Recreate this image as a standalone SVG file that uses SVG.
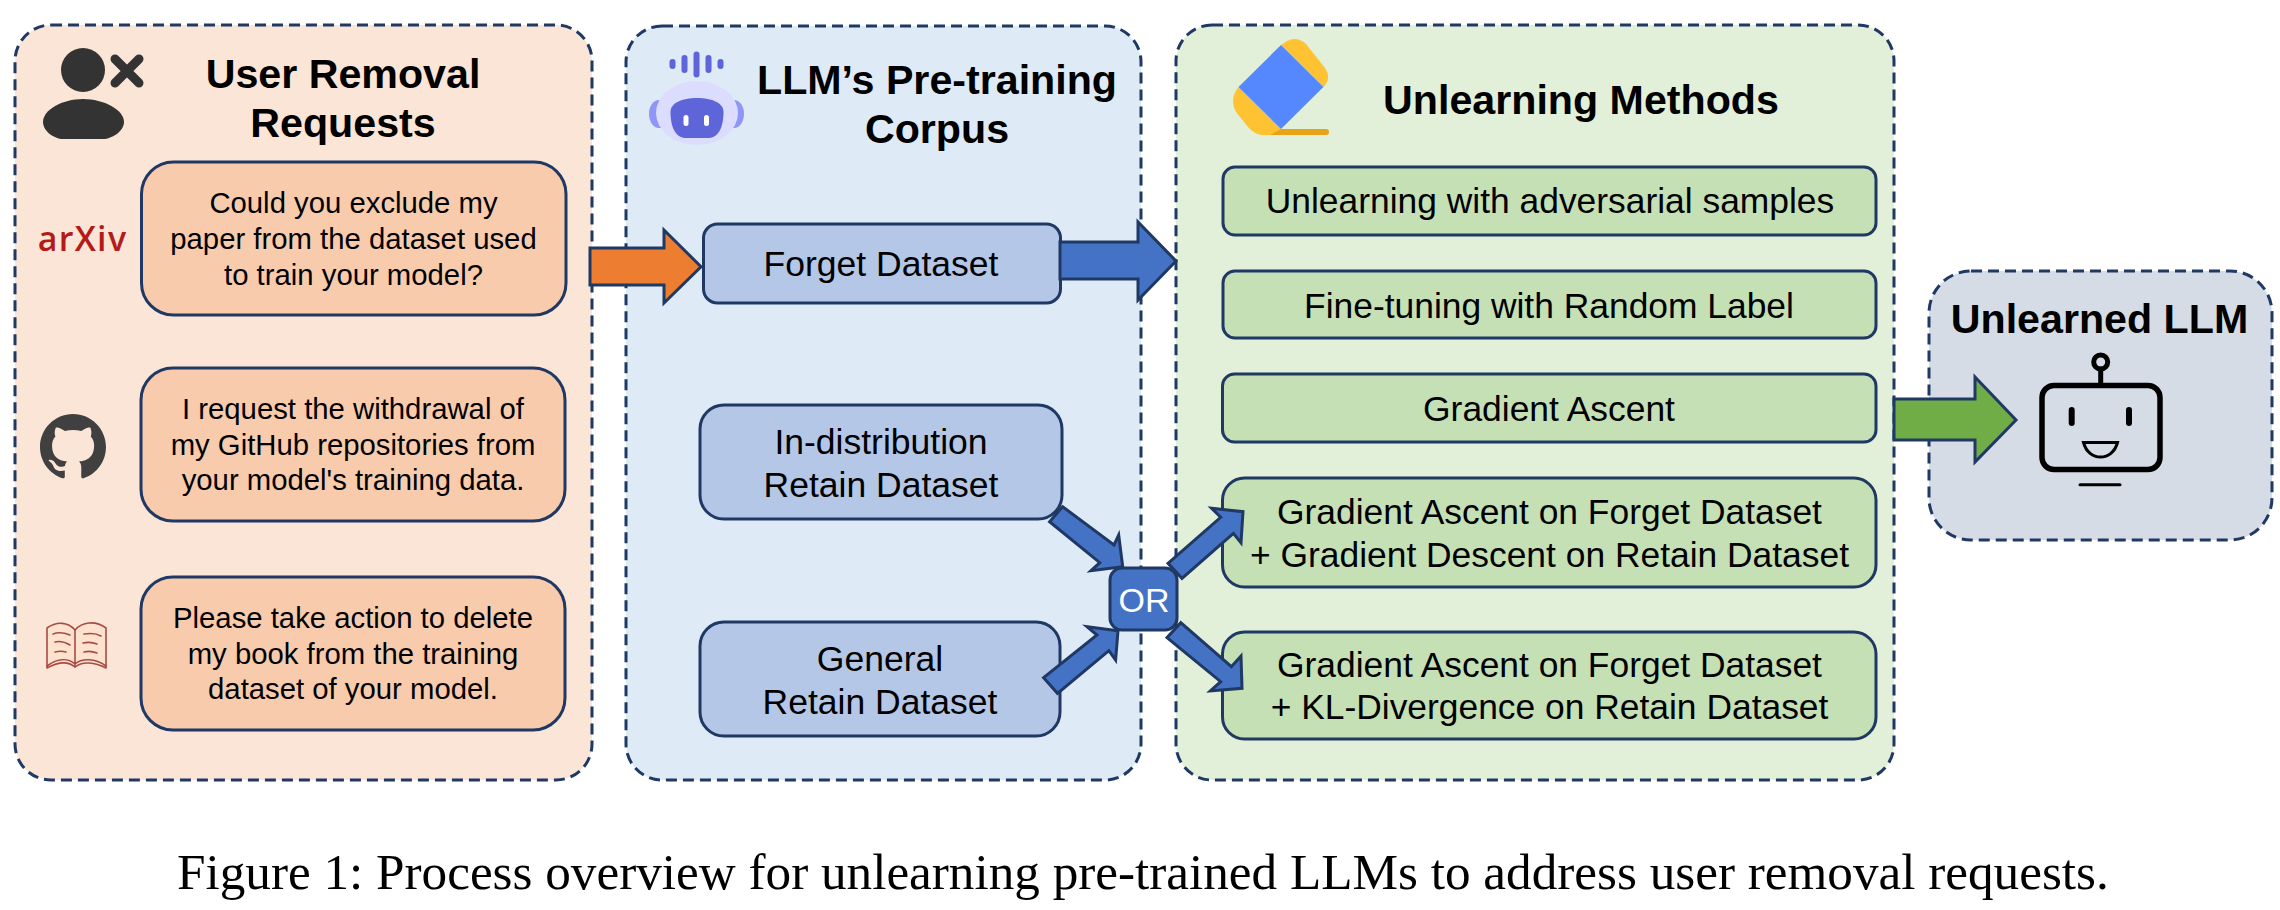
<svg xmlns="http://www.w3.org/2000/svg" width="2280" height="910" viewBox="0 0 2280 910">
<style>
text{font-family:"Liberation Sans",Arial,sans-serif;fill:#000;text-anchor:middle}
.title{font-size:41.2px;font-weight:700}
.req{font-size:29.3px}
.ds{font-size:35.5px}
.m{font-size:35.4px}
.panel{stroke:#1f3864;stroke-width:3;stroke-dasharray:11 6}
.box{stroke:#1f3864;stroke-width:3}
.arrow{stroke:#1f3864;stroke-width:3;stroke-linejoin:miter}
.peach{fill:#f8cbad}.blue{fill:#b4c7e7}.green{fill:#c5e0b4}
</style>
<rect width="2280" height="910" fill="#fff"/>

<g id="panel-requests">
<rect class="panel" x="15" y="25" width="577" height="755" rx="36" fill="#fbe5d6"/>
<text class="title" x="343" y="88">User Removal</text>
<text class="title" x="343" y="137">Requests</text>
<g id="icon-user" fill="#333">
<ellipse cx="83" cy="70" rx="22" ry="22"/>
<path d="M43 122C43 110 62 99 83 99S124 110 124 122C124 131 112 139 103 139H63C54 139 43 131 43 122Z"/>
<path d="M115 59L139 83M139 59L115 83" stroke="#333" stroke-width="9" stroke-linecap="round" fill="none"/>
</g>
<text x="82.5" y="250.5" style="font-family:'Open Sans','Noto Sans',sans-serif;font-size:34px;font-weight:600;letter-spacing:1.3px;fill:#b31b1b">arXiv</text>
<path id="icon-github" fill="#404040" transform="translate(40 414) scale(4.125)" d="M8 0C3.58 0 0 3.58 0 8c0 3.54 2.29 6.53 5.47 7.59.4.07.55-.17.55-.38 0-.19-.01-.82-.01-1.49-2.01.37-2.53-.49-2.69-.94-.09-.23-.48-.94-.82-1.13-.28-.15-.68-.52-.01-.53.63-.01 1.08.58 1.23.82.72 1.21 1.87.87 2.33.66.07-.52.28-.87.51-1.07-1.78-.2-3.64-.89-3.64-3.95 0-.87.31-1.59.82-2.15-.08-.2-.36-1.02.08-2.12 0 0 .67-.21 2.2.82.64-.18 1.32-.27 2-.27.68 0 1.36.09 2 .27 1.53-1.04 2.2-.82 2.2-.82.44 1.1.16 1.92.08 2.12.51.56.82 1.27.82 2.15 0 3.07-1.87 3.75-3.65 3.95.29.25.54.73.54 1.48 0 1.07-.01 1.93-.01 2.2 0 .21.15.46.55.38A8.013 8.013 0 0016 8c0-4.42-3.58-8-8-8z"/>
<g id="icon-book" fill="#fde3cf" stroke="#a94a45" stroke-width="1.6" stroke-linejoin="round" stroke-linecap="round">
<path d="M75 667C68 661 58 662 47 668V628C57 621 68 622 75 630C82 622 95 620 106 628V668C95 662 82 661 75 667Z"/>
<path d="M75 630V667M47 666C58 658 68 658 75 664C82 658 95 658 106 666" fill="none"/>
<path d="M53 634C58 632 65 633 70 635M55 642C59 641 65 642 70 645M55 652C59 651 62 651 66 652M84 634C90 633 96 633 101 636M83 643C88 642 92 642 97 644M84 652C88 651 92 651 97 653" fill="none"/>
</g>
</g>

<g id="panel-corpus">
<rect class="panel" x="626" y="26" width="515" height="754" rx="36" fill="#deebf7"/>
<text class="title" x="937" y="94">LLM’s Pre-training</text>
<text class="title" x="937" y="143">Corpus</text>
<g id="icon-robot-head">
<g fill="#5d65d8">
<rect x="669.5" y="59" width="6" height="10" rx="3"/>
<rect x="681.5" y="55" width="6" height="18" rx="3"/>
<rect x="693.5" y="51.5" width="6" height="26" rx="3"/>
<rect x="705.5" y="55" width="6" height="18" rx="3"/>
<rect x="717.5" y="59" width="6" height="10" rx="3"/>
</g>
<rect x="649" y="100" width="95" height="28" rx="10" ry="14" fill="#8f96f8"/>
<ellipse cx="697" cy="113" rx="41" ry="32" fill="#dcdcff"/>
<path d="M670.500 112C670.500 103 682 98 697 98S723.500 103 723.500 112C723.500 128 718 138 708 138H686C676 138 670.500 128 670.500 112Z" fill="#5d65d8"/>
<rect x="683.500" y="115" width="5" height="11" rx="2.500" fill="#fff"/>
<rect x="704" y="115" width="5" height="11" rx="2.500" fill="#fff"/>
</g>
</g>

<g id="panel-methods">
<rect class="panel" x="1176" y="25" width="718" height="755" rx="36" fill="#e2f0d9"/>
<text class="title" x="1581" y="114">Unlearning Methods</text>
<g id="icon-eraser">
<path d="M1272 129H1326Q1329 129 1329 132T1326 135H1265Z" fill="#e8a317"/>
<path d="M1281 45L1287 41Q1297 36 1306 44L1325 68Q1332 78 1323.400 87Z" fill="#ffc233"/>
<path d="M1238.500 87L1281 129L1270 135H1262Q1254 134 1248 127L1236 112Q1229 99 1238.500 87Z" fill="#ffc233"/>
<path d="M1281 45L1323.400 87L1281 129L1238.500 87Z" fill="#5588ff"/>
</g>
</g>

<g id="panel-unlearned">
<rect class="panel" x="1929" y="271" width="343" height="269" rx="42" fill="#d6dce5"/>
<text class="title" x="2099.500" y="333">Unlearned LLM</text>
<g id="icon-bot" fill="none" stroke="#000" stroke-linecap="round">
<rect x="2042" y="385.500" width="118" height="84" rx="12" stroke-width="5.500"/>
<path d="M2100.700 369V385" stroke-width="5"/>
<circle cx="2100.700" cy="362" r="7" stroke-width="5"/>
<path d="M2071.700 410V423M2129 410V423" stroke-width="6"/>
<path d="M2083.500 442.500H2117.500C2115 452 2108 457 2100.500 457S2086 452 2083.500 442.500Z" stroke-width="3"/>
<path d="M2080 484.700H2120" stroke-width="3"/>
</g>
</g>

<g id="node-req1"><rect class="box peach" x="141.500" y="162" width="424.500" height="153" rx="32"/>
<text class="req" x="353.500" y="213">Could you exclude my</text><text class="req" x="353.500" y="249">paper from the dataset used</text><text class="req" x="353.500" y="285">to train your model?</text></g>
<g id="node-req2"><rect class="box peach" x="141" y="368" width="424" height="153" rx="32"/>
<text class="req" x="353" y="419">I request the withdrawal of</text><text class="req" x="353" y="455">my GitHub repositories from</text><text class="req" x="353" y="490">your model's training data.</text></g>
<g id="node-req3"><rect class="box peach" x="141" y="577" width="424" height="153" rx="32"/>
<text class="req" x="353" y="628">Please take action to delete</text><text class="req" x="353" y="664">my book from the training</text><text class="req" x="353" y="699">dataset of your model.</text></g>

<g id="node-forget"><rect class="box blue" x="703.500" y="224" width="357" height="79" rx="14"/>
<text class="ds" x="881" y="276">Forget Dataset</text></g>
<g id="node-indist"><rect class="box blue" x="700" y="405" width="362" height="114" rx="24"/>
<text class="ds" x="881" y="454">In-distribution</text><text class="ds" x="881" y="497">Retain Dataset</text></g>
<g id="node-general"><rect class="box blue" x="700" y="622" width="360" height="114" rx="24"/>
<text class="ds" x="880" y="671">General</text><text class="ds" x="880" y="714">Retain Dataset</text></g>

<g id="node-m1"><rect class="box green" x="1223" y="167" width="653" height="68" rx="12"/><text class="m" x="1550" y="213">Unlearning with adversarial samples</text></g>
<g id="node-m2"><rect class="box green" x="1223" y="271" width="653" height="67" rx="12"/><text class="m" x="1549" y="318">Fine-tuning with Random Label</text></g>
<g id="node-m3"><rect class="box green" x="1222.500" y="374" width="653.500" height="68" rx="12"/><text class="m" x="1549" y="421">Gradient Ascent</text></g>
<g id="node-m4"><rect class="box green" x="1222.500" y="478" width="653.500" height="109" rx="22"/><text class="m" x="1549.500" y="524">Gradient Ascent on Forget Dataset</text><text class="m" x="1549.500" y="567">+ Gradient Descent on Retain Dataset</text></g>
<g id="node-m5"><rect class="box green" x="1222.500" y="632" width="653.500" height="107" rx="22"/><text class="m" x="1549.500" y="677">Gradient Ascent on Forget Dataset</text><text class="m" x="1549.500" y="719">+ KL-Divergence on Retain Dataset</text></g>

<g id="connectors">
<polygon class="arrow" fill="#ed7d31" points="590,248 664,248 664,230 701,266.700 664,303 664,285 590,285"/>
<polygon class="arrow" fill="#4472c4" points="1060,242 1138,242 1138,222 1176,261 1138,300 1138,279 1060,279"/>
<polygon class="arrow" fill="#70ad47" points="1894,399 1975,399 1975,377 2016,420 1975,462 1975,440 1894,440"/>
<polygon class="arrow" fill="#4472c4" points="1062.600,506.700 1114,545 1118.700,535 1122.700,566.700 1091,570.700 1099.800,562.700 1049.600,521.700"/>
<polygon class="arrow" fill="#4472c4" points="1043.600,677.700 1097,635 1087,626.700 1118,630.700 1115.600,660 1108.900,650.700 1057.500,693.300"/>
<polygon class="arrow" fill="#4472c4" points="1168,563.300 1220.700,517.300 1211.600,508.300 1243,511.700 1241,542.700 1233.400,533.300 1182,578.300"/>
<polygon class="arrow" fill="#4472c4" points="1180.800,622.700 1231.400,666.700 1241,656 1242,688.300 1210.400,691 1220.700,681.700 1167,637.700"/>
</g>

<g id="node-or"><rect class="box" x="1110" y="568" width="67" height="62" rx="12" fill="#4472c4"/>
<text x="1144" y="612" style="font-size:34px;fill:#fff">OR</text></g>

<text id="caption" x="177" y="889" style="font-family:'Liberation Serif','Times New Roman',serif;font-size:51.200px;text-anchor:start">Figure 1: Process overview for unlearning pre-trained LLMs to address user removal requests.</text>
</svg>
